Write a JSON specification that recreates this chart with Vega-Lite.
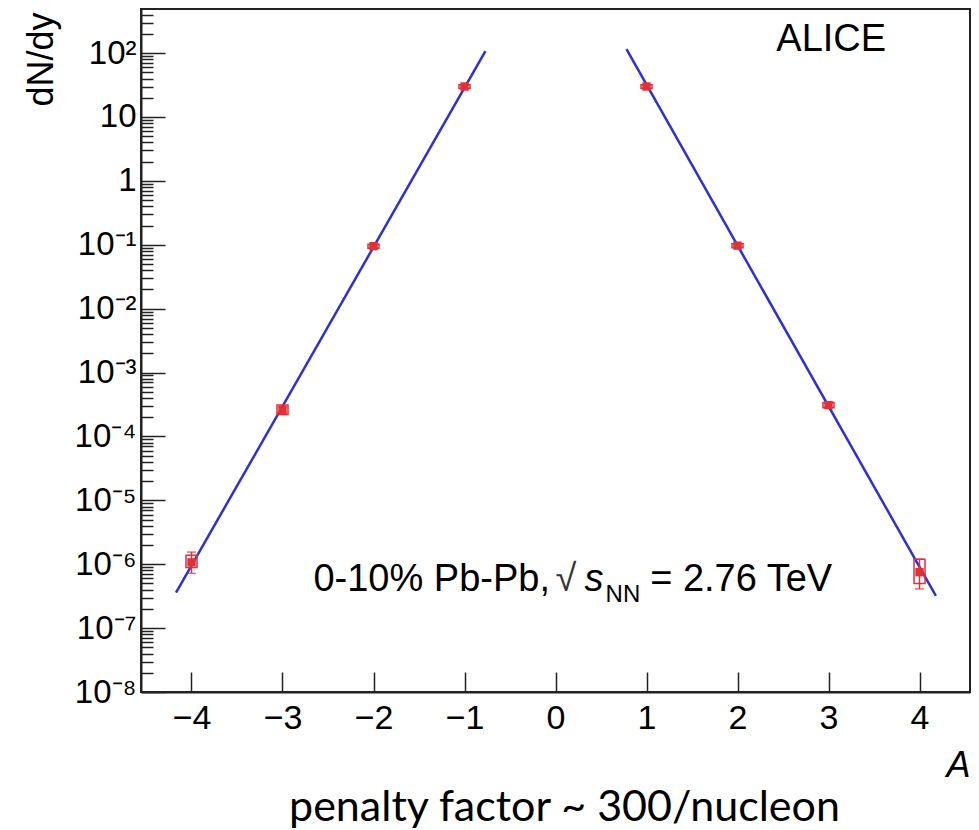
{
  "$schema": "https://vega.github.io/schema/vega-lite/v6.json",
  "width": 829,
  "height": 683,
  "autosize": {"type": "none"},
  "padding": {"left": 141, "top": 9, "right": 9, "bottom": 138},
  "background": "white",
  "config": {
    "view": {"stroke": "#222", "strokeWidth": 2},
    "font": "Liberation Sans",
    "axis": {"grid": false, "domainColor": "#222", "domainWidth": 2, "tickColor": "#222", "tickWidth": 1.5, "labelColor": "black", "titleColor": "black", "labelFont": "Liberation Sans", "titleFont": "Liberation Sans", "titleFontWeight": "normal"}
  },
  "title": {"text": "penalty factor ~ 300/nucleon", "orient": "bottom", "anchor": "middle", "font": "Lato", "fontSize": 43, "fontWeight": "normal", "color": "black", "offset": 4, "dx": 9},
  "layer": [
    {
      "data": {"values": [
        {"A": -4, "dndy": 1.07e-6, "stat_lo": 7.2e-7, "stat_hi": 1.55e-6, "sys_lo": 8.9e-7, "sys_hi": 1.38e-6},
        {"A": -3, "dndy": 2.6e-4, "stat_lo": 2.35e-4, "stat_hi": 2.9e-4, "sys_lo": 2.2e-4, "sys_hi": 3.1e-4},
        {"A": -2, "dndy": 0.095, "stat_lo": 0.09, "stat_hi": 0.1, "sys_lo": 0.088, "sys_hi": 0.102},
        {"A": -1, "dndy": 30, "stat_lo": 28.5, "stat_hi": 31.5, "sys_lo": 28, "sys_hi": 32},
        {"A": 1, "dndy": 30, "stat_lo": 28.5, "stat_hi": 31.5, "sys_lo": 28, "sys_hi": 32},
        {"A": 2, "dndy": 0.097, "stat_lo": 0.092, "stat_hi": 0.102, "sys_lo": 0.09, "sys_hi": 0.104},
        {"A": 3, "dndy": 3.1e-4, "stat_lo": 2.85e-4, "stat_hi": 3.35e-4, "sys_lo": 2.8e-4, "sys_hi": 3.4e-4},
        {"A": 4, "dndy": 7.5e-7, "stat_lo": 4.1e-7, "stat_hi": 1.2e-6, "sys_lo": 5.0e-7, "sys_hi": 1.2e-6}
      ]},
      "encoding": {
        "x": {"field": "A", "type": "quantitative",
          "scale": {"domain": [-4.5, 4.5], "nice": false, "zero": false},
          "axis": {"values": [-4, -3, -2, -1, 0, 1, 2, 3, 4], "format": "d", "tickSize": -20, "labelFontSize": 34, "labelPadding": 29, "labelFlush": false, "labelOverlap": false,
            "title": "A", "titleFontSize": 36, "titleFontStyle": "italic", "titleX": 829, "titleY": 73, "titleAlign": "right", "titleBaseline": "middle"}
        },
        "y": {"type": "quantitative",
          "scale": {"type": "log", "domain": [1e-8, 490], "nice": false},
          "axis": {
            "values": [1e-8,2e-8,3e-8,4e-8,5e-8,6e-8,7e-8,8e-8,9e-8,1e-7,2e-7,3e-7,4e-7,5e-7,6e-7,7e-7,8e-7,9e-7,1e-6,2e-6,3e-6,4e-6,5e-6,6e-6,7e-6,8e-6,9e-6,1e-5,2e-5,3e-5,4e-5,5e-5,6e-5,7e-5,8e-5,9e-5,1e-4,2e-4,3e-4,4e-4,5e-4,6e-4,7e-4,8e-4,9e-4,1e-3,2e-3,3e-3,4e-3,5e-3,6e-3,7e-3,8e-3,9e-3,0.01,0.02,0.03,0.04,0.05,0.06,0.07,0.08,0.09,0.1,0.2,0.3,0.4,0.5,0.6,0.7,0.8,0.9,1,2,3,4,5,6,7,8,9,10,20,30,40,50,60,70,80,90,100,200,300,400],
            "tickSize": {"condition": {"test": "abs(log(datum.value)/LN10 - round(log(datum.value)/LN10)) < 0.001", "value": -24}, "value": -12},
            "labelExpr": "abs(log(datum.value)/LN10 - round(log(datum.value)/LN10)) < 0.001 ? (round(log(datum.value)/LN10) == 0 ? '1' : round(log(datum.value)/LN10) == 1 ? '10' : '10' + ['⁻⁸','⁻⁷','⁻⁶','⁻⁵','⁻⁴','⁻³','⁻²','⁻¹','','','²'][round(log(datum.value)/LN10) + 8]) : ''",
            "labelFontSize": 33, "labelPadding": 29, "labelOverlap": false, "labelFlush": false, "labelBound": false,
            "title": "dN/dy", "titleFontSize": 36, "titleX": -100, "titleY": 3, "titleAngle": 270, "titleAlign": "right", "titleBaseline": "middle"
          }
        }
      },
      "layer": [
        {
          "data": {"values": [
            {"A": -4.17, "fit": 3.6e-7, "side": "neg"},
            {"A": -0.77, "fit": 107, "side": "neg"},
            {"A": 0.78, "fit": 115, "side": "pos"},
            {"A": 4.18, "fit": 3.2e-7, "side": "pos"}
          ]},
          "mark": {"type": "line", "color": "#2f2fd8", "strokeWidth": 2.5, "clip": true},
          "encoding": {"y": {"field": "fit"}, "detail": {"field": "side"}}
        },
        {
          "mark": {"type": "bar", "width": 11, "filled": false, "stroke": "#e0303a", "strokeWidth": 1.5},
          "encoding": {"y": {"field": "sys_lo"}, "y2": {"field": "sys_hi"}}
        },
        {
          "mark": {"type": "rule", "color": "#e0303a", "strokeWidth": 1.5},
          "encoding": {"y": {"field": "stat_lo"}, "y2": {"field": "stat_hi"}}
        },
        {
          "mark": {"type": "tick", "orient": "horizontal", "color": "#e0303a", "size": 9, "thickness": 1.5},
          "encoding": {"y": {"field": "stat_lo"}}
        },
        {
          "mark": {"type": "tick", "orient": "horizontal", "color": "#e0303a", "size": 9, "thickness": 1.5},
          "encoding": {"y": {"field": "stat_hi"}}
        },
        {
          "mark": {"type": "point", "shape": "square", "filled": true, "color": "#e0303a", "size": 70, "opacity": 1},
          "encoding": {"y": {"field": "dndy"}}
        }
      ]
    },
    {
      "data": {"values": [{}]},
      "mark": {"type": "text", "text": "ALICE", "fontSize": 38, "align": "center", "baseline": "middle", "color": "black"},
      "encoding": {
        "x": {"datum": 3.03, "type": "quantitative", "scale": {"domain": [-4.5, 4.5], "nice": false, "zero": false}},
        "y": {"datum": 160, "type": "quantitative", "scale": {"type": "log", "domain": [1e-8, 490], "nice": false}}
      }
    },
    {
      "data": {"values": [{}]},
      "mark": {"type": "text", "text": "0-10% Pb-Pb,", "fontSize": 38, "align": "left", "baseline": "alphabetic", "color": "black"},
      "encoding": {
        "x": {"datum": -2.66, "type": "quantitative", "scale": {"domain": [-4.5, 4.5], "nice": false, "zero": false}},
        "y": {"datum": 3.8e-7, "type": "quantitative", "scale": {"type": "log", "domain": [1e-8, 490], "nice": false}}
      }
    },
    {
      "data": {"values": [{}]},
      "mark": {"type": "text", "text": "√", "fontSize": 38, "align": "left", "baseline": "alphabetic", "color": "#333"},
      "encoding": {
        "x": {"datum": 0.0, "type": "quantitative", "scale": {"domain": [-4.5, 4.5], "nice": false, "zero": false}},
        "y": {"datum": 3.8e-7, "type": "quantitative", "scale": {"type": "log", "domain": [1e-8, 490], "nice": false}}
      }
    },
    {
      "data": {"values": [{}]},
      "mark": {"type": "text", "text": "s", "fontSize": 38, "fontStyle": "italic", "align": "left", "baseline": "alphabetic", "color": "black"},
      "encoding": {
        "x": {"datum": 0.32, "type": "quantitative", "scale": {"domain": [-4.5, 4.5], "nice": false, "zero": false}},
        "y": {"datum": 3.8e-7, "type": "quantitative", "scale": {"type": "log", "domain": [1e-8, 490], "nice": false}}
      }
    },
    {
      "data": {"values": [{}]},
      "mark": {"type": "text", "text": "NN", "fontSize": 24, "align": "left", "baseline": "alphabetic", "color": "black", "dy": 11},
      "encoding": {
        "x": {"datum": 0.55, "type": "quantitative", "scale": {"domain": [-4.5, 4.5], "nice": false, "zero": false}},
        "y": {"datum": 3.8e-7, "type": "quantitative", "scale": {"type": "log", "domain": [1e-8, 490], "nice": false}}
      }
    },
    {
      "data": {"values": [{}]},
      "mark": {"type": "text", "text": "= 2.76 TeV", "fontSize": 38, "align": "left", "baseline": "alphabetic", "color": "black"},
      "encoding": {
        "x": {"datum": 1.04, "type": "quantitative", "scale": {"domain": [-4.5, 4.5], "nice": false, "zero": false}},
        "y": {"datum": 3.8e-7, "type": "quantitative", "scale": {"type": "log", "domain": [1e-8, 490], "nice": false}}
      }
    }
  ]
}
